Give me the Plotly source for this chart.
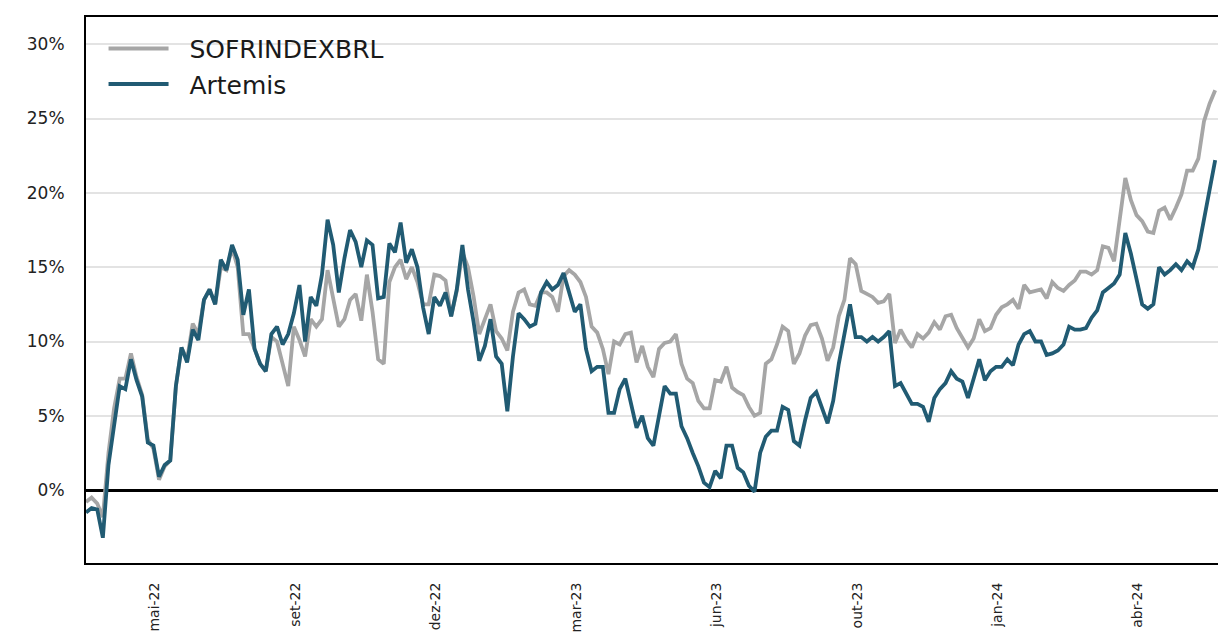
import plotly.graph_objects as go
import pandas as pd

# Observation dates (4-day spacing)
dates = pd.date_range("2022-04-06", periods=202, freq="4D")

sofr = [
    -0.8, -0.5, -0.9, -1.8, 2.5, 5.5, 7.5, 7.5, 9.2, 7.6,
    6.4, 3.4, 2.8, 0.7, 1.6, 2.0, 7.0, 9.6, 8.8, 11.2,
    10.5, 12.8, 13.5, 12.5, 15.0, 14.8, 16.3, 15.0, 10.5, 10.5,
    9.5, 8.5, 8.0, 10.3, 10.0, 8.5, 7.0, 11.0, 10.1, 9.0,
    11.5, 11.0, 11.5, 14.8, 12.8, 11.0, 11.5, 12.8, 13.2, 11.4,
    14.5, 12.0, 8.8, 8.5, 14.0, 15.0, 15.5, 14.2, 15.0, 14.0,
    12.5, 12.5, 14.5, 14.4, 14.1, 11.7, 13.4, 16.0, 15.0, 13.0,
    10.5, 11.5, 12.5, 10.7, 10.2, 9.4, 12.0, 13.3, 13.5, 12.5,
    12.4, 13.3, 13.3, 13.0, 12.0, 14.4, 14.8, 14.5, 14.0, 13.0,
    11.0, 10.6, 9.5, 7.8, 10.0, 9.8, 10.5, 10.6, 8.6, 9.7,
    8.3, 7.6, 9.5, 9.9, 10.0, 10.5, 8.5, 7.5, 7.2, 6.0,
    5.5, 5.5, 7.4, 7.3, 8.3, 6.9, 6.6, 6.4, 5.6, 5.0,
    5.2, 8.5, 8.8, 9.8, 11.0, 10.7, 8.5, 9.2, 10.4, 11.1,
    11.2, 10.2, 8.7, 9.6, 11.7, 12.8, 15.6, 15.2, 13.4, 13.2,
    13.0, 12.6, 12.7, 13.2, 9.9, 10.8, 10.1, 9.6, 10.5, 10.2,
    10.6, 11.3, 10.8, 11.7, 11.8, 10.9, 10.2, 9.6, 10.2, 11.5,
    10.7, 10.9, 11.8, 12.3, 12.5, 12.8, 12.2, 13.8, 13.3, 13.4,
    13.5, 12.9, 14.0, 13.6, 13.4, 13.8, 14.1, 14.7, 14.7, 14.5,
    14.8, 16.4, 16.3, 15.4, 18.0, 21.0, 19.5, 18.5, 18.1, 17.4,
    17.3, 18.8, 19.0, 18.2, 19.0, 19.9, 21.5, 21.5, 22.3, 24.8,
    26.0, 26.9,
]

artemis = [
    -1.5, -1.2, -1.3, -3.2, 1.7, 4.4, 7.0, 6.8, 8.8, 7.4,
    6.3, 3.2, 3.0, 0.9, 1.7, 2.0, 7.0, 9.6, 8.6, 10.8,
    10.1, 12.8, 13.5, 12.5, 15.5, 14.8, 16.5, 15.5, 11.8, 13.5,
    9.5, 8.5, 8.0, 10.5, 11.0, 9.8, 10.5, 11.9, 13.8, 10.0,
    13.0, 12.4, 14.5, 18.2, 16.5, 13.3, 15.6, 17.5, 16.7, 15.0,
    16.8, 16.5, 12.9, 13.0, 16.6, 16.0, 18.0, 15.3, 16.2, 15.0,
    12.3, 10.5, 13.0, 12.4, 13.3, 11.7, 13.5, 16.5, 13.5, 11.3,
    8.7, 9.7, 11.5, 9.0, 8.5, 5.3, 9.0, 11.9, 11.5, 11.0,
    11.2, 13.3, 14.0, 13.5, 13.8, 14.6, 13.2, 12.0, 12.5, 9.5,
    8.0, 8.3, 8.3, 5.2, 5.2, 6.8, 7.5, 5.8, 4.2, 5.0,
    3.5, 3.0, 5.0, 7.0, 6.5, 6.5, 4.3, 3.5, 2.5, 1.6,
    0.5, 0.2, 1.3, 0.8, 3.0, 3.0, 1.5, 1.2, 0.3, -0.1,
    2.5, 3.6, 4.0, 4.0, 5.6, 5.4, 3.3, 3.0, 4.7, 6.2,
    6.6, 5.5, 4.5, 6.0, 8.5, 10.5, 12.5, 10.3, 10.3, 10.0,
    10.3, 10.0, 10.3, 10.7, 7.0, 7.2, 6.5, 5.8, 5.8, 5.6,
    4.6, 6.2, 6.8, 7.2, 8.0, 7.5, 7.3, 6.2, 7.5, 8.8,
    7.4, 8.0, 8.3, 8.3, 8.8, 8.4, 9.8, 10.5, 10.7, 10.0,
    10.0, 9.1, 9.2, 9.4, 9.8, 11.0, 10.8, 10.8, 10.9, 11.6,
    12.1, 13.3, 13.6, 13.9, 14.5, 17.3, 15.9, 14.2, 12.5, 12.2,
    12.5, 15.0, 14.5, 14.8, 15.2, 14.8, 15.4, 15.0, 16.2, 18.2,
    20.3, 22.2,
]

tick_dates = ["2022-05-25", "2022-09-02", "2022-12-11", "2023-03-21",
              "2023-06-29", "2023-10-07", "2024-01-15", "2024-04-24"]
tick_labels = ["mai-22", "set-22", "dez-22", "mar-23",
               "jun-23", "out-23", "jan-24", "abr-24"]
y_ticks = [0, 5, 10, 15, 20, 25, 30]
y_labels = ["0%", "5%", "10%", "15%", "20%", "25%", "30%"]

fig = go.Figure()
fig.add_trace(go.Scatter(x=dates, y=sofr, mode="lines",
                         name="\u00a0\u00a0SOFRINDEXBRL",
                         line=dict(color="#A6A6A6", width=3.8)))
fig.add_trace(go.Scatter(x=dates, y=artemis, mode="lines",
                         name="\u00a0\u00a0Artemis",
                         line=dict(color="#215B73", width=3.8)))

fig.update_layout(
    width=1218, height=632,
    margin=dict(l=86, r=0, t=17, b=69, autoexpand=False),
    paper_bgcolor="white", plot_bgcolor="white",
    font=dict(family="DejaVu Sans", color="#222222"),
    legend=dict(x=0.0155, y=0.984, xanchor="left", yanchor="top",
                bgcolor="rgba(0,0,0,0)", font=dict(size=25, color="#1a1a1a"),
                itemwidth=60),
    showlegend=True,
)
fig.update_xaxes(
    range=["2022-04-06", "2024-06-20"],
    tickvals=tick_dates, ticktext=tick_labels, tickangle=-90,
    showgrid=False, zeroline=False, automargin=False,
    showline=True, linecolor="black", linewidth=2, mirror=True,
    ticks="", ticklabelstandoff=12,
    tickfont=dict(size=14, color="#222222"),
)
fig.update_yaxes(
    range=[-4.9, 31.83],
    tickvals=y_ticks, ticktext=y_labels, automargin=False,
    showgrid=True, gridcolor="#E3E3E3", gridwidth=1.5,
    zeroline=True, zerolinecolor="black", zerolinewidth=3,
    showline=True, linecolor="black", linewidth=2, mirror=False,
    ticks="", ticklabelstandoff=16,
    tickfont=dict(size=17, color="#222222"),
)

fig.write_html(
    "out.html",
    config={"displayModeBar": False},
    post_script="document.body.style.margin='0';document.body.style.overflow='hidden';",
)
